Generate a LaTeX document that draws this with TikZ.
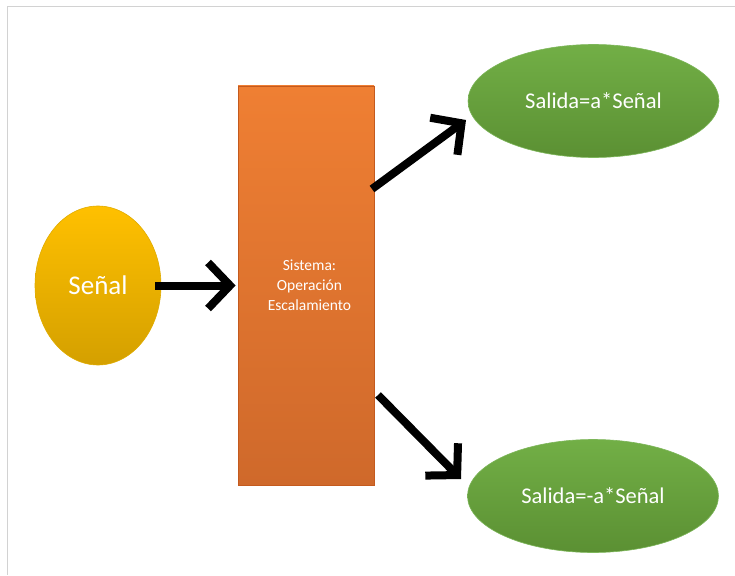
\documentclass[tikz,border=0pt]{standalone}
\usepackage{fontspec}
\setmainfont{Carlito}
\usetikzlibrary{arrows.meta,shapes.geometric,calc}
\definecolor{yeltop}{HTML}{FFC000}
\definecolor{yelbot}{HTML}{D4A000}
\definecolor{yelline}{HTML}{E0AC00}
\definecolor{orgtop}{HTML}{EF7F33}
\definecolor{orgbot}{HTML}{CF692B}
\definecolor{orgline}{HTML}{C45A1E}
\definecolor{grntop}{HTML}{72AF46}
\definecolor{grnbot}{HTML}{5B9033}
\definecolor{grnline}{HTML}{7DB65A}
\definecolor{frame}{HTML}{D2D2D2}
\begin{document}
\begin{tikzpicture}[x=1pt,y=-1pt,
  sigshape/.style={ellipse, inner sep=0pt, minimum width=126, minimum height=159,
    top color=yeltop, bottom color=yelbot, draw=yelline, line width=0.6pt,
    text=white, font=\fontsize{27}{30}\selectfont},
  sysbox/.style={rectangle, inner sep=0pt, minimum width=136, minimum height=399,
    top color=orgtop, bottom color=orgbot, draw=orgline, line width=0.8pt,
    text=white, align=center, font=\fontsize{15.5}{20}\selectfont},
  outshape/.style={ellipse, inner sep=0pt, minimum width=251, minimum height=113,
    top color=grntop, bottom color=grnbot, draw=grnline, line width=0.6pt,
    text=white, font=\fontsize{22.5}{25}\selectfont},
  arr/.style={line width=8pt, black,
    -{Straight Barb[length=22pt,width=46pt,sharp]}}
]
\useasboundingbox (0,0) rectangle (735,575);
\draw[frame, line width=1pt] (735,7) -- (7,7) -- (7,575);

\node[sigshape] (sen) at (98,285.5) {Señal};
\node[sysbox] (sys) at (306,285.5) {\hspace*{7pt}Sistema:\\\hspace*{7pt}Operación\\\hspace*{7pt}Escalamiento};
\node[outshape] (out1) at (593.5,101) {Salida=a*Señal};
\node[outshape] (out2) at (593,496) {Salida=-a*Señal};

\coordinate (a2s) at (372,189);
\coordinate (a2e) at (466,120);
\coordinate (a3s) at (378,395);
\coordinate (a3e) at (461,479);

\draw[arr] ($(sen.east)+(-6,0)$) -- ($(sys.west)+(-2,0)$);
\draw[arr] (a2s) -- (a2e);
\draw[arr] (a3s) -- (a3e);
\end{tikzpicture}
\end{document}
